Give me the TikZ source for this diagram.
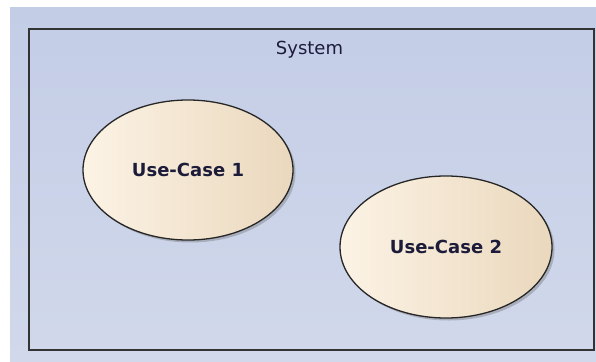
\documentclass[tikz,border=0pt]{standalone}
\usepackage{fontspec}
\setmainfont{DejaVu Sans}
\usetikzlibrary{shapes.geometric,shadows,fadings}
\definecolor{bgtop}{HTML}{C3CDE6}
\definecolor{bgbot}{HTML}{D1D8EB}
\definecolor{ucleft}{HTML}{FCF3E5}
\definecolor{ucmid}{HTML}{FAF0E2}
\definecolor{ucright}{HTML}{EAD8BD}
\definecolor{labelink}{HTML}{1C1C3A}
\tikzset{
  usecase/.style={ellipse, draw=black!85, line width=1.3pt,
    minimum width=210pt, minimum height=140pt, inner sep=0pt,
    left color=ucleft, middle color=ucmid, right color=ucright,
    shading angle=90,
    drop shadow={shadow xshift=2.5pt, shadow yshift=-2.5pt, opacity=0.35, fill=black!60},
    font=\bfseries\fontsize{18}{20}\selectfont, text=labelink},
  frametitle/.style={font=\fontsize{18}{20}\selectfont, text=labelink},
}
\begin{document}
\begin{tikzpicture}[x=1pt,y=-1pt]
  \useasboundingbox (0,0) rectangle (596,361);
  % diagram canvas
  \shade[top color=bgtop, bottom color=bgbot] (10,8) rectangle (596,361);
  % system boundary
  \draw[line width=2pt, draw=black!80] (29,29) rectangle (594,349.5);
  \node[frametitle, anchor=base] (title) at (309.5,55) {System};
  % use cases
  \node[usecase] (uc1) at (188,170) {Use-Case 1};
  \node[usecase, minimum width=212pt, minimum height=142pt] (uc2) at (446,247) {Use-Case 2};
\end{tikzpicture}
\end{document}
